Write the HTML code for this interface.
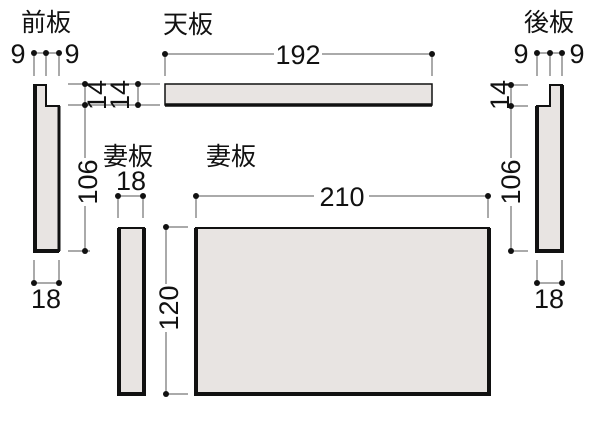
<!DOCTYPE html>
<html><head><meta charset="utf-8"><style>
html,body{margin:0;padding:0;background:#fff}
svg{display:block}
text{font-family:"Liberation Sans","Noto Sans CJK JP",sans-serif;fill:#111}
.n{font-size:27px}
.j{font-size:25px}
</style></head><body>
<svg width="600" height="421" viewBox="0 0 600 421" xmlns="http://www.w3.org/2000/svg">
<g stroke="#555" stroke-width="1" fill="none">
<line x1="34" y1="53" x2="59" y2="53"/>
<line x1="34" y1="55" x2="34" y2="76"/><line x1="46" y1="55" x2="46" y2="76"/><line x1="59" y1="55" x2="59" y2="76"/>
<line x1="68" y1="84" x2="160" y2="84"/><line x1="68" y1="105" x2="160" y2="105"/>
<line x1="85" y1="84" x2="85" y2="158"/><line x1="85" y1="206" x2="85" y2="251"/>
<line x1="138" y1="84" x2="138" y2="105"/>
<line x1="68" y1="251" x2="90" y2="251"/>
<line x1="34" y1="260" x2="34" y2="283"/><line x1="59" y1="260" x2="59" y2="283"/><line x1="34" y1="283" x2="59" y2="283"/>
<line x1="165" y1="54" x2="274" y2="54"/><line x1="322" y1="54" x2="432" y2="54"/>
<line x1="165" y1="54" x2="165" y2="76"/><line x1="432" y1="54" x2="432" y2="76"/>
<line x1="118" y1="196" x2="143" y2="196"/><line x1="118" y1="196" x2="118" y2="218"/><line x1="143" y1="196" x2="143" y2="218"/>
<line x1="166" y1="227" x2="188" y2="227"/><line x1="166" y1="394" x2="188" y2="394"/>
<line x1="166" y1="227" x2="166" y2="284"/><line x1="166" y1="332" x2="166" y2="394"/>
<line x1="196" y1="196" x2="314" y2="196"/><line x1="369" y1="196" x2="488" y2="196"/>
<line x1="196" y1="196" x2="196" y2="218"/><line x1="488" y1="196" x2="488" y2="218"/>
<line x1="537" y1="53" x2="562" y2="53"/>
<line x1="537" y1="55" x2="537" y2="76"/><line x1="550" y1="55" x2="550" y2="76"/><line x1="562" y1="55" x2="562" y2="76"/>
<line x1="511" y1="85" x2="528" y2="85"/><line x1="511" y1="106" x2="528" y2="106"/><line x1="511" y1="251" x2="528" y2="251"/>
<line x1="511" y1="85" x2="511" y2="158"/><line x1="511" y1="206" x2="511" y2="251"/>
<line x1="537" y1="260" x2="537" y2="283"/><line x1="562" y1="260" x2="562" y2="283"/><line x1="537" y1="283" x2="562" y2="283"/>
</g>
<g fill="#111">
<circle cx="34" cy="53" r="3"/><circle cx="46" cy="53" r="3"/><circle cx="59" cy="53" r="3"/>
<circle cx="85" cy="84" r="3"/><circle cx="85" cy="105" r="3"/><circle cx="85" cy="251" r="3"/>
<circle cx="138" cy="84" r="3"/><circle cx="138" cy="105" r="3"/>
<circle cx="34" cy="283" r="3"/><circle cx="59" cy="283" r="3"/>
<circle cx="165" cy="54" r="3"/><circle cx="432" cy="54" r="3"/>
<circle cx="118" cy="196" r="3"/><circle cx="143" cy="196" r="3"/>
<circle cx="166" cy="227" r="3"/><circle cx="166" cy="394" r="3"/>
<circle cx="196" cy="196" r="3"/><circle cx="488" cy="196" r="3"/>
<circle cx="537" cy="53" r="3"/><circle cx="550" cy="53" r="3"/><circle cx="562" cy="53" r="3"/>
<circle cx="511" cy="85" r="3"/><circle cx="511" cy="106" r="3"/><circle cx="511" cy="251" r="3"/>
<circle cx="537" cy="283" r="3"/><circle cx="562" cy="283" r="3"/>
</g>
<g fill="#e8e4e2" stroke="#111">
<path d="M34 85 H46 V106 H59 V251 H34 Z" stroke-width="2"/>
<path d="M35 85 V251 H59" fill="none" stroke-width="4"/>
<path d="M59 106 V251" fill="none" stroke-width="3"/>
<rect x="165" y="84" width="267" height="21" stroke-width="1.5"/>
<line x1="165" y1="105" x2="432" y2="105" stroke-width="3.5"/>
<rect x="119" y="228" width="25" height="166" stroke-width="2"/>
<path d="M119 228 V394 H144 V228" fill="none" stroke-width="4"/>
<rect x="196" y="228" width="293" height="166" stroke-width="2"/>
<path d="M196 228 V394 H489 V228" fill="none" stroke-width="4"/>
<path d="M550 85 H562 V251 H537 V106 H550 Z" stroke-width="2"/>
<path d="M537 106 V251 H562 V85" fill="none" stroke-width="4"/>
</g>
<text class="j" x="21" y="31">前板</text>
<text class="j" x="163" y="33">天板</text>
<text class="j" x="524" y="31">後板</text>
<text class="j" x="103" y="165">妻板</text>
<text class="j" x="206" y="165">妻板</text>
<text class="n" x="18" y="63" text-anchor="middle">9</text>
<text class="n" x="72" y="63" text-anchor="middle">9</text>
<text class="n" x="521" y="63" text-anchor="middle">9</text>
<text class="n" x="577" y="63" text-anchor="middle">9</text>
<text class="n" x="298" y="64" text-anchor="middle">192</text>
<text class="n" x="342" y="206" text-anchor="middle">210</text>
<text class="n" x="131" y="190" text-anchor="middle">18</text>
<text class="n" x="46" y="308" text-anchor="middle">18</text>
<text class="n" x="549" y="308" text-anchor="middle">18</text>
<text class="n" transform="translate(106,95) rotate(-90)" text-anchor="middle">14</text>
<text class="n" transform="translate(129,95) rotate(-90)" text-anchor="middle">14</text>
<text class="n" transform="translate(97,182) rotate(-90)" text-anchor="middle">106</text>
<text class="n" transform="translate(178,308) rotate(-90)" text-anchor="middle">120</text>
<text class="n" transform="translate(509,95) rotate(-90)" text-anchor="middle">14</text>
<text class="n" transform="translate(520,182) rotate(-90)" text-anchor="middle">106</text>
</svg>
</body></html>
